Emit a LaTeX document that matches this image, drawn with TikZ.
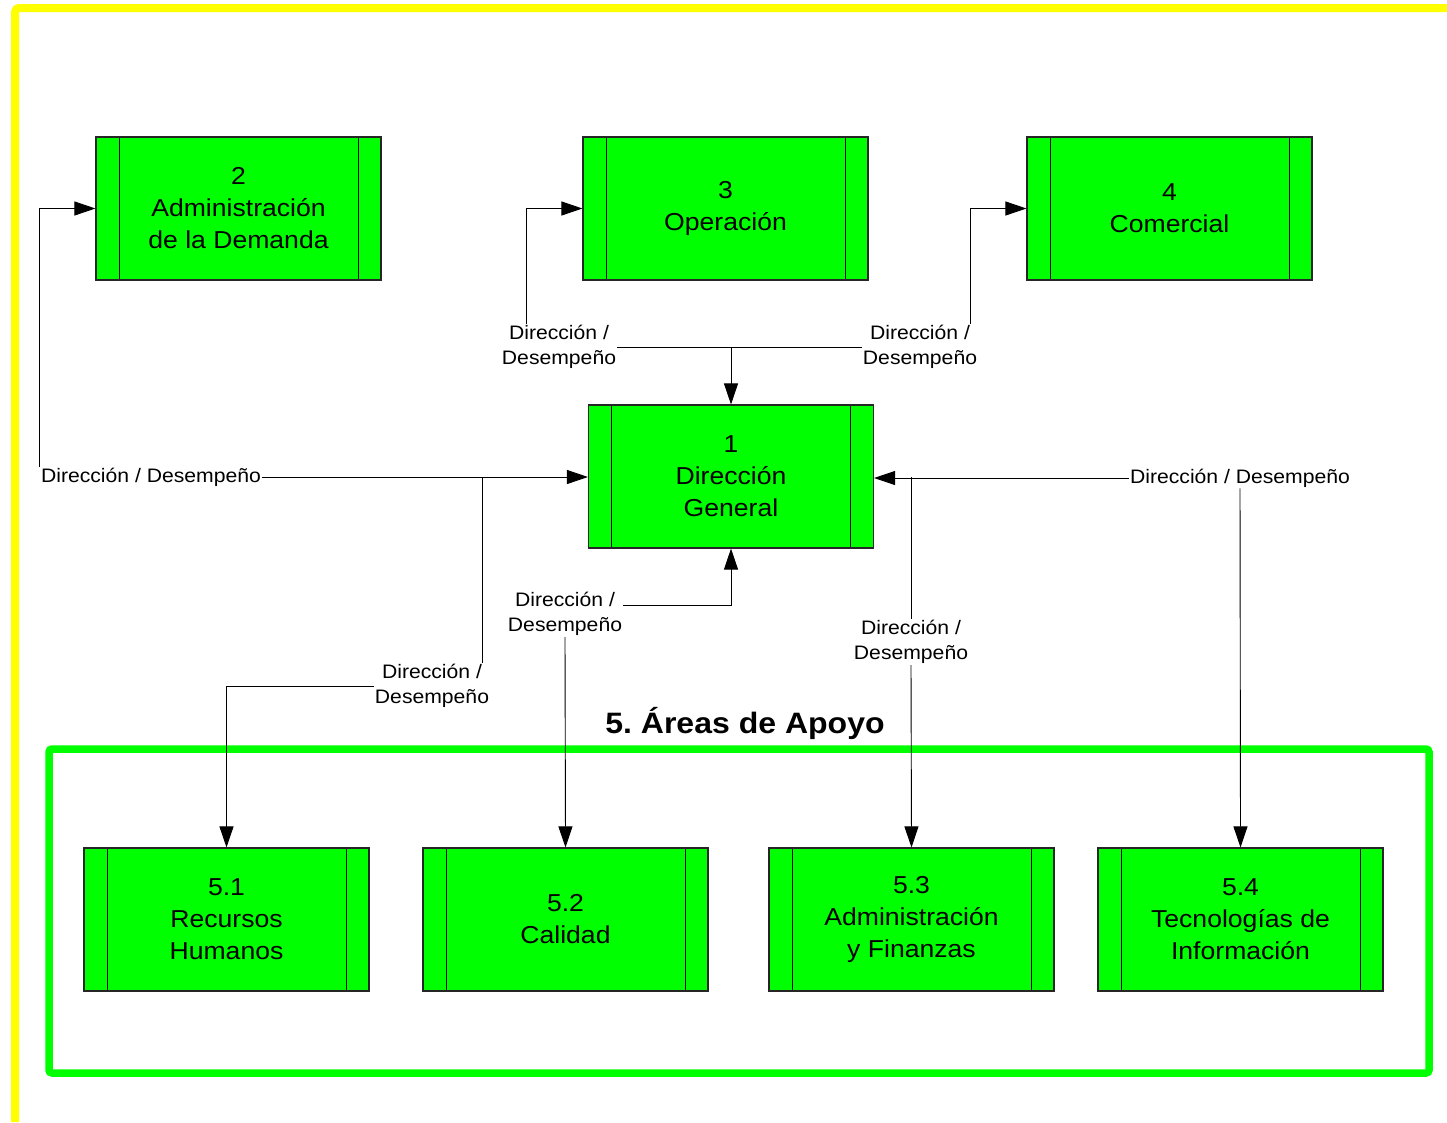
\documentclass[tikz,border=0pt]{standalone}
\usepackage{fontspec}
\setmainfont{Liberation Sans}[FakeStretch=1.085]
\frenchspacing
\usetikzlibrary{arrows.meta}
\definecolor{boxgreen}{RGB}{0,255,0}
\definecolor{framegreen}{RGB}{0,255,0}
\definecolor{frameyellow}{RGB}{255,255,0}
\tikzset{
  procbox/.style={rectangle, fill=boxgreen, draw=black!85, line width=1.1pt,
    minimum width=285pt, minimum height=143pt, inner sep=0pt, align=center,
    font=\fontsize{24.5}{32}\selectfont,
    path picture={\draw[black, line width=0.9pt]
      ([xshift=23pt]path picture bounding box.north west) -- ([xshift=23pt]path picture bounding box.south west)
      ([xshift=-23pt]path picture bounding box.north east) -- ([xshift=-23pt]path picture bounding box.south east);}},
  flowlab/.style={align=center, inner sep=1pt, font=\fontsize{19.5}{25.5}\selectfont},
  conn/.style={draw=black, line width=0.9pt},
  arr/.style={conn, -{Triangle[length=21pt,width=14pt]}},
  groupframe/.style={draw=framegreen, line width=7.5pt, rounded corners=3pt, minimum width=1380pt, minimum height=324pt, inner sep=0pt}
}
\begin{document}
\begin{tikzpicture}[x=1pt,y=-1pt]
\useasboundingbox (0,0) rectangle (1447,1122);
% outer yellow frame
\draw[frameyellow, line width=8pt, rounded corners=4pt] (15,1122) -- (15,8) -- (1447,8);

% group frame
\node[groupframe] (grp) at (739,911) {};
\node[font=\bfseries\fontsize{29.5}{34}\selectfont, anchor=base, inner sep=0pt] (title) at (745,733) {5. Áreas de Apoyo};

% boxes
\node[procbox] (b2) at (238.5,208.5) {2\\Administración\\de la Demanda};
\node[procbox] (b3) at (725.5,208.5) {3\\Operación};
\node[procbox] (b4) at (1169.5,208.5) {4\\Comercial};
\node[procbox] (b1) at (731,476.5) {1\\Dirección\\General};
\node[procbox] (b51) at (226.5,919.5) {5.1\\Recursos\\Humanos};
\node[procbox] (b52) at (565.5,919.5) {5.2\\Calidad};
\node[procbox] (b53) at (911.5,919.5) {5.3\\Administración\\y Finanzas};
\node[procbox] (b54) at (1240.5,919.5) {5.4\\Tecnologías de\\Información};

% labels
\node[flowlab] (lA) at (559,347) {Dirección /\\Desempeño};
\node[flowlab] (lB) at (920,347) {Dirección /\\Desempeño};
\node[flowlab] (lC) at (151,477) {Dirección / Desempeño};
\node[flowlab] (lD) at (432,686) {Dirección /\\Desempeño};
\node[flowlab] (lE) at (565,614) {Dirección /\\Desempeño};
\node[flowlab] (lF) at (911,642) {Dirección /\\Desempeño};
\node[flowlab] (lG) at (1240,478) {Dirección / Desempeño};

\coordinate (j1) at (482,477);
\coordinate (j2) at (911,477);

% connectors
\draw[arr] ([xshift=-33pt]lA.north) |- (b3.west);
\draw[arr] (lA.east) -| (b1.north);
\draw[arr] ([xshift=50pt]lB.north) |- (b4.west);
\draw[conn] (lB.west) -- (lA.east -| b1.north);

\draw[arr] (lC.north west) |- (b2.west);
\draw[arr] (lC.east) -- (lC.east -| b1.west);
\draw[conn] (j1) -- (j1 |- lD.north);
\draw[arr] (lD.west) -| (b51.north);

\draw[arr] ([yshift=9pt]lE.east) -| (b1.south);
\draw[arr] (lE.south) -- (b52.north);

\draw[arr] (lG.west) -- (lG.west -| b1.east);
\draw[conn] (j2) -- (lF.north);
\draw[arr] (lF.south) -- (b53.north);
\draw[arr] (lG.south) -- (b54.north);
\end{tikzpicture}
\end{document}
